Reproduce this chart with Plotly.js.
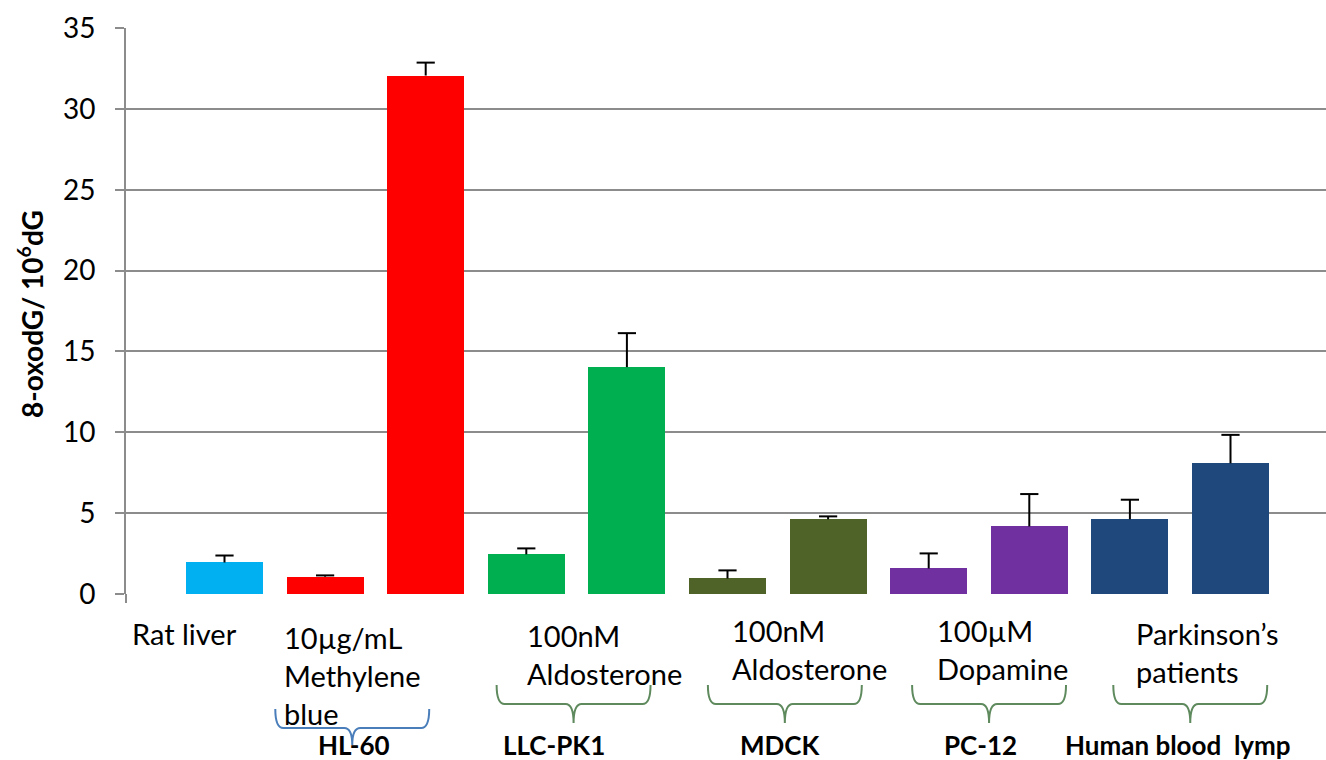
<!DOCTYPE html>
<html>
<head>
<meta charset="utf-8">
<script src="https://cdn.plot.ly/plotly-3.0.1.min.js"></script>
<style>html,body{margin:0;padding:0;background:#fff;}#chart{width:1326px;height:760px;}</style>
</head>
<body>
<div id="chart"></div>
<script>
// ---- data ----
const barPositions = [0, 1, 2, 3, 4, 5, 6, 7, 8, 9, 10];
const barValues = [1.95, 1.07, 32.06, 2.45, 14.03, 0.96, 4.62, 1.58, 4.18, 4.62, 8.08];
const barErrors = [0.43, 0.08, 0.80, 0.37, 2.10, 0.50, 0.18, 0.93, 2.00, 1.21, 1.76];
const barColors = ["#00B0F0", "#FF0000", "#FF0000", "#00B050", "#00B050", "#4F6228", "#4F6228", "#7030A0", "#7030A0", "#1F497D", "#1F497D"];
const treatmentLabels = ["Rat liver", "10µg/mL<br>Methylene<br>blue", "100nM<br>Aldosterone", "100nM<br>Aldosterone", "100µM<br>Dopamine", "Parkinson’s<br>patients"];
const cellLines = ["HL-60", "LLC-PK1", "MDCK", "PC-12", "Human blood  lymp"];
const yTickValues = [0, 5, 10, 15, 20, 25, 30, 35];

// ---- layout helpers (pixel geometry of the figure) ----
const W = 1326, H = 760, ML = 126, MR = 0, MT = 28, MB = 166;
const plotW = W - ML - MR, plotH = H - MT - MB;
const xPaper = px => (px - ML) / plotW;
const yPaper = py => (H - MB - py) / plotH;
const xData = px => (px - 224.5) / 100.6;

const treatPos = [[130, 633], [282, 637], [525, 635], [730, 630], [935, 630], [1134, 633]];
const cellPos = [[354, 'center'], [554, 'center'], [780, 'center'], [980, 'center'], [1063, 'left']];
const braceCenters = [1.27, 3.47, 5.57, 7.6, 9.6];
const braceColors = ["#4A7EBB", "#5E8A5E", "#5E8A5E", "#5E8A5E", "#5E8A5E"];
const braceY = [[709, 728, 745], [685, 704, 723], [685, 704, 723], [685, 704, 723], [685, 704, 723]];

const bars = {
  type: 'bar',
  x: barPositions,
  y: barValues,
  width: 0.765,
  marker: {color: barColors, line: {width: 0}},
  hoverinfo: 'y',
  showlegend: false
};
// plus-only error bars: cap marker at value+error, stem drawn down to the bar top
const errTops = barValues.map((v, i) => v + barErrors[i]);
const errs = {
  type: 'scatter', mode: 'markers',
  x: barPositions, y: errTops,
  marker: {symbol: 'line-ew', size: 13, color: '#000', line: {color: '#000', width: 2}},
  error_y: {type: 'data', symmetric: false, array: barErrors.map(() => 0), arrayminus: barErrors,
            color: '#000', thickness: 2, width: 0},
  hoverinfo: 'skip', showlegend: false, cliponaxis: false
};

const annotations = [];
treatmentLabels.forEach((lab, i) => {
  lab.split('<br>').forEach((line, j) => {
    annotations.push({
      text: line, xref: 'paper', yref: 'paper',
      x: xPaper(treatPos[i][0]), y: yPaper(treatPos[i][1] + j * 38),
      xanchor: 'left', yanchor: 'middle', showarrow: false,
      font: {family: 'Lato, sans-serif', size: 29, color: '#000'}
    });
  });
});
cellLines.forEach((lab, i) => {
  annotations.push({
    text: '<b>' + lab + '</b>', xref: 'paper', yref: 'paper',
    x: xPaper(cellPos[i][0]), y: yPaper(745),
    xanchor: cellPos[i][1], yanchor: 'middle', showarrow: false,
    font: {family: 'Lato, sans-serif', size: 26, color: '#000'}
  });
});
annotations.push({
  text: '<b>8-oxodG/ 10<sup>6</sup>dG</b>', xref: 'paper', yref: 'paper',
  x: xPaper(30), y: yPaper(314), textangle: -90, showarrow: false,
  xanchor: 'center', yanchor: 'middle',
  font: {family: 'Lato, sans-serif', size: 28, color: '#000'}
});

const shapes = [];
braceCenters.forEach((c, i) => {
  const hw = 0.765, rx = 0.08;
  const x0 = c - hw, x1 = c + hw;
  const yt = yPaper(braceY[i][0]), ym = yPaper(braceY[i][1]), yb = yPaper(braceY[i][2]);
  const path = `M ${x0},${yt} Q ${x0},${ym} ${x0 + rx},${ym} L ${c - rx},${ym} Q ${c},${ym} ${c},${yb} ` +
               `M ${c},${yb} Q ${c},${ym} ${c + rx},${ym} L ${x1 - rx},${ym} Q ${x1},${ym} ${x1},${yt}`;
  shapes.push({type: 'path', xref: 'x', yref: 'paper', path: path,
               line: {color: braceColors[i], width: 2}});
});
// small tick below the axis origin
shapes.push({type: 'line', xref: 'paper', yref: 'paper', x0: 0, x1: 0, y0: 0, y1: yPaper(603),
             line: {color: '#8C8C8C', width: 2}});

const layout = {
  width: W, height: H,
  margin: {l: ML, r: MR, t: MT, b: MB, pad: 0},
  paper_bgcolor: '#fff', plot_bgcolor: '#fff',
  showlegend: false,
  bargap: 0,
  xaxis: {range: [xData(ML), xData(W - MR)], showticklabels: false, showgrid: false,
          zeroline: false, showline: false, ticks: '', fixedrange: true},
  yaxis: {range: [0, 35], tickvals: yTickValues, ticktext: yTickValues.map(String),
          showgrid: true, gridcolor: '#8C8C8C', gridwidth: 2,
          zeroline: false, showline: true, linecolor: '#8C8C8C', linewidth: 2,
          ticks: 'outside', ticklen: 9, tickwidth: 2, tickcolor: '#8C8C8C',
          ticklabelstandoff: 14,
          tickfont: {family: 'Lato, sans-serif', size: 28, color: '#000'}, fixedrange: true},
  annotations: annotations,
  shapes: shapes
};

Plotly.newPlot('chart', [bars, errs], layout, {displayModeBar: false, staticPlot: true});
</script>
</body>
</html>
